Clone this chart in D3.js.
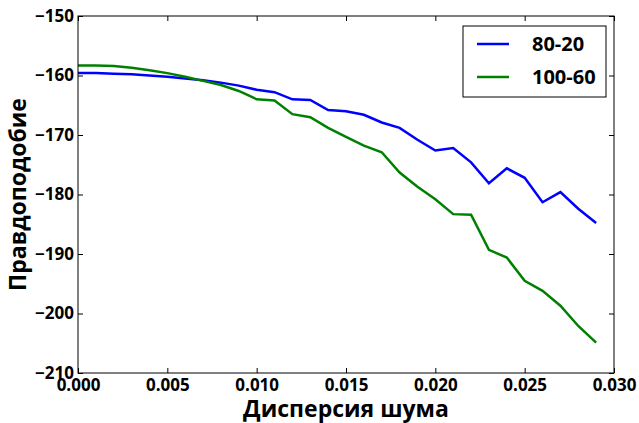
<!DOCTYPE html>
<html>
<head>
<meta charset="utf-8">
<script src="https://cdn.jsdelivr.net/npm/d3@7"></script>
<style>
  body { margin: 0; background: #fff; }
  svg text { font-family: "Open Sans", "DejaVu Sans", sans-serif; font-weight: bold; }
</style>
</head>
<body>
<div id="chart"></div>
<script>
// noise variance
var noise = [0.000, 0.001, 0.002, 0.003, 0.004, 0.005, 0.006, 0.007, 0.008, 0.009,
             0.010, 0.011, 0.012, 0.013, 0.014, 0.015, 0.016, 0.017, 0.018, 0.019,
             0.020, 0.021, 0.022, 0.023, 0.024, 0.025, 0.026, 0.027, 0.028, 0.029];
var series_80_20 = [-159.6, -159.6, -159.7, -159.8, -160.0, -160.2, -160.5, -160.8, -161.2, -161.7,
                    -162.4, -162.8, -164.0, -164.1, -165.8, -166.0, -166.6, -167.9, -168.8, -170.8,
                    -172.6, -172.2, -174.6, -178.1, -175.6, -177.2, -181.3, -179.6, -182.4, -184.8];
var series_100_60 = [-158.3, -158.3, -158.4, -158.7, -159.1, -159.6, -160.2, -160.9, -161.6, -162.6,
                     -164.0, -164.2, -166.5, -167.0, -168.8, -170.3, -171.8, -172.9, -176.3, -178.7,
                     -180.8, -183.3, -183.4, -189.3, -190.6, -194.5, -196.2, -198.7, -202.1, -204.9];
var xTicks = [0, 0.005, 0.01, 0.015, 0.02, 0.025, 0.03];
var yTicks = [-210, -200, -190, -180, -170, -160, -150];
var legendLabels = ["80-20", "100-60"];
var colors = ["#0000ff", "#008000"];

var width = 639, height = 423;
var margin = {top: 16, right: 25, bottom: 50, left: 78};
var w = width - margin.left - margin.right;
var h = height - margin.top - margin.bottom;

var svg = d3.select("#chart").append("svg")
  .attr("width", width)
  .attr("height", height);

var x = d3.scaleLinear().domain([0, 0.03]).range([0, w]);
var y = d3.scaleLinear().domain([-210, -150]).range([h, 0]);

var g = svg.append("g")
  .attr("transform", "translate(" + margin.left + "," + margin.top + ")");

// inward ticks on all four sides, matplotlib classic look
function styleAxis(sel, hideText){
  sel.select(".domain").remove();
  sel.selectAll(".tick line").attr("stroke", "#000").attr("stroke-width", 1);
  sel.selectAll(".tick text").attr("font-size", "17px").attr("fill", "#000");
  if (hideText) sel.selectAll(".tick text").remove();
}

g.append("g")
  .attr("transform", "translate(0," + h + ")")
  .call(d3.axisBottom(x).tickValues(xTicks).tickSizeInner(-5).tickSizeOuter(0).tickPadding(6).tickFormat(d3.format(".3f")))
  .call(styleAxis);
g.append("g")
  .call(d3.axisTop(x).tickValues(xTicks).tickSizeInner(-5).tickSizeOuter(0))
  .call(styleAxis, true);
g.append("g")
  .call(d3.axisLeft(y).tickValues(yTicks).tickSizeInner(-5).tickSizeOuter(0).tickPadding(4).tickFormat(function(d){ return d3.format("d")(d).replace("-", "\u2212"); }))
  .call(styleAxis);
g.append("g")
  .attr("transform", "translate(" + w + ",0)")
  .call(d3.axisRight(y).tickValues(yTicks).tickSizeInner(-5).tickSizeOuter(0))
  .call(styleAxis, true);

var line = d3.line()
  .x(function(d){ return x(d[0]); })
  .y(function(d){ return y(d[1]); });

[series_80_20, series_100_60].forEach(function(s, i){
  g.append("path")
    .datum(noise.map(function(n, j){ return [n, s[j]]; }))
    .attr("fill", "none")
    .attr("stroke", colors[i])
    .attr("stroke-width", 2.5)
    .attr("d", line);
});

// frame
g.append("rect")
  .attr("width", w).attr("height", h)
  .attr("fill", "none").attr("stroke", "#000").attr("stroke-width", 1);

// legend
var lg = g.append("g").attr("transform", "translate(" + (w - 151) + ",10)");
lg.append("rect")
  .attr("width", 143).attr("height", 71)
  .attr("fill", "#fff").attr("stroke", "#000").attr("stroke-width", 1);
legendLabels.forEach(function(l, i){
  var yy = 18 + i * 33;
  lg.append("line")
    .attr("x1", 14).attr("x2", 46).attr("y1", yy).attr("y2", yy)
    .attr("stroke", colors[i]).attr("stroke-width", 2.5);
  lg.append("text")
    .attr("x", 69).attr("y", yy).attr("dy", "0.36em")
    .attr("font-size", "20px")
    .text(l);
});

// axis labels
svg.append("text")
  .attr("x", margin.left + w / 2).attr("y", 417)
  .attr("text-anchor", "middle")
  .attr("font-size", "23px")
  .text("Дисперсия шума");
svg.append("text")
  .attr("transform", "translate(26," + (margin.top + h / 2) + ") rotate(-90)")
  .attr("text-anchor", "middle")
  .attr("font-size", "23px")
  .text("Правдоподобие");
</script>
</body>
</html>
